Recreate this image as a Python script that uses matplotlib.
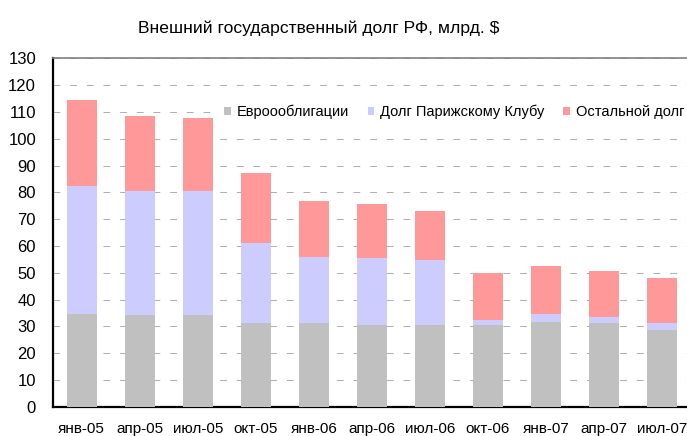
import numpy as np
import matplotlib
matplotlib.use('Agg')
import matplotlib.pyplot as plt

# данные (млрд. $)
periods = ['янв-05', 'апр-05', 'июл-05', 'окт-05', 'янв-06', 'апр-06',
           'июл-06', 'окт-06', 'янв-07', 'апр-07', 'июл-07']
eurobonds = [34.8, 34.2, 34.2, 31.1, 31.1, 30.5, 30.5, 30.5, 31.7, 31.1, 28.6]
paris_club = [47.6, 46.3, 46.3, 29.9, 24.9, 25.0, 24.4, 1.8, 3.0, 2.5, 2.5]
other_debt = [32.1, 28.0, 27.2, 26.1, 20.8, 20.0, 18.1, 17.7, 17.8, 17.0, 17.0]

labels = ['Евроооблигации', 'Долг Парижскому Клубу', 'Остальной долг']
colors = ['#c0c0c0', '#ccccff', '#ff9999']

plt.rcParams['font.family'] = ['Liberation Sans', 'DejaVu Sans']

fig = plt.figure(figsize=(6.87, 4.36), dpi=100, facecolor='white')
ax = fig.add_axes([0.0767, 0.067, 0.929, 0.799])

x = np.arange(len(periods))
w = 0.52
b1 = np.array(eurobonds)
b2 = b1 + np.array(paris_club)
ax.bar(x, eurobonds, w, color=colors[0], label=labels[0], zorder=3)
ax.bar(x, paris_club, w, bottom=b1, color=colors[1], label=labels[1], zorder=3)
ax.bar(x, other_debt, w, bottom=b2, color=colors[2], label=labels[2], zorder=3)

ax.set_xlim(-0.5, 10.5)
ax.set_ylim(0, 130)
ax.set_yticks(range(0, 131, 10))
ax.set_xticks(x)
ax.set_xticklabels(periods, fontsize=11)
ax.tick_params(axis='y', length=0, pad=12, labelsize=12)
ax.tick_params(axis='x', length=0, pad=11)

ax.yaxis.grid(True, color='#b0b0b0', linewidth=0.75, linestyle=(0, (6.5, 9.5)), zorder=0)
ax.set_axisbelow(True)

ax.spines['left'].set_linewidth(1.6)
ax.spines['bottom'].set_linewidth(1.6)
ax.spines['top'].set_color('#808080')
ax.spines['top'].set_linewidth(1.2)
ax.spines['right'].set_visible(False)

leg = ax.legend(loc='center left', bbox_to_anchor=(0.307, 0.743),
                bbox_transform=fig.transFigure, ncol=3, fontsize=10.5,
                frameon=True, fancybox=False, edgecolor='none', framealpha=1,
                handlelength=0.45, handleheight=0.45, handletextpad=0.4,
                columnspacing=1.3, borderpad=0.9, borderaxespad=0)
leg.set_zorder(2)

fig.text(0.464, 0.936, 'Внешний государственный долг РФ, млрд. $',
         ha='center', va='center', fontsize=12.6)

fig.savefig('out.png', dpi=100, facecolor='white')
